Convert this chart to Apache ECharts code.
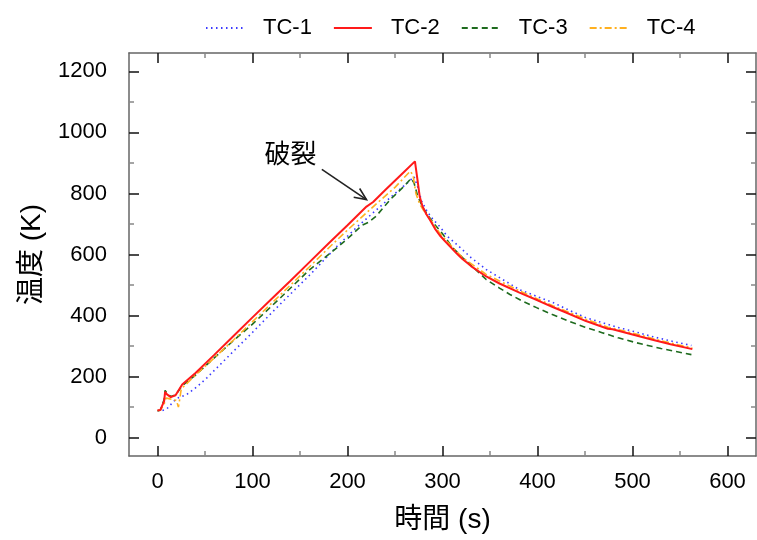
<!DOCTYPE html>
<html>
<head>
<meta charset="utf-8">
<script src="https://cdn.jsdelivr.net/npm/echarts@6/dist/echarts.min.js"></script>
<style>html,body{margin:0;padding:0;background:#fff}#c{width:757px;height:540px}</style>
</head>
<body>
<div id="c"></div>
<script>
// ---- data ----
const seriesNames = ['TC-1', 'TC-2', 'TC-3', 'TC-4'];

const tc1Time = [0,5,10,15,20,31,42,52,70,100,130,160,189,210,230,250,265,270,274,278,284,290,297,305,315,330,346,365,381,400,416,435,451,470,486,505,521,540,562];
const tc1Temp = [88,89,95,112,128,142,168,196,252,345,440,532,627,690,745,800,840,855,820,775,740,715,692,660,633,590,551,515,485,462,443,415,393,375,360,345,331,317,302];

const tc2Time = [0,3,5,7,8,10,14,19,26,40,60,80,100,120,140,160,180,200,220,227,240,260,271,273,276,279,283,287,292,297,302,308,315,321,330,346,360,381,400,416,430,451,474,479,500,521,540,563];
const tc2Temp = [90,91,95,120,150,142,133,139,174,212,272,333,394,454,514,575,636,696,757,772,812,872,905,860,790,757,732,712,685,663,646,626,603,585,562,528,505,475,450,428,410,382,357,355,338,321,306,290];

const tc3Time = [0,3,5,7,8,10,14,19,26,40,60,80,100,130,160,190,203,215,222,230,245,260,267,270,274,280,290,300,310,321,335,346,360,371,385,399,415,434,450,468,485,504,530,562];
const tc3Temp = [88,90,95,125,155,145,135,140,170,205,262,318,372,460,550,625,660,695,705,725,780,825,849,835,790,750,705,668,625,590,550,518,490,469,446,426,404,380,362,344,327,311,292,272];

const tc4Time = [0,3,5,7,9,12,16,20,22,23,25,30,40,60,80,100,130,160,182,200,230,250,266,269,272,276,280,287,297,308,321,346,381,416,451,474,500,521,540,563];
const tc4Temp = [88,90,93,110,130,128,125,122,100,118,160,175,205,262,320,380,470,560,627,680,765,820,873,860,800,765,745,715,670,632,590,535,481,432,388,362,343,325,310,294];

const xMajorTicks = [0,100,200,300,400,500,600];
const xMinorTicks = [50,150,250,350,450,550];
const yMajorTicks = [0,200,400,600,800,1000,1200];
const yMinorTicks = [100,300,500,700,900,1100];

const annotationText = '破裂';
const annotationLabelAt = [140, 931];
const arrowFrom = [173, 879];
const arrowTo = [220, 780];

// ---- chart ----
const FONT = '"Liberation Sans", Arial, "Noto Sans CJK JP", sans-serif';
const chart = echarts.init(document.getElementById('c'), null, {renderer: 'canvas'});

function pairs(t, v) { return t.map((x, i) => [x, v[i]]); }

function axisPair(pos, isMain, ticks, len, color, range) {
  return {
    type: 'value', position: pos, min: range[0], max: range[1],
    axisLine: {show: isMain, onZero: false, lineStyle: {color: '#666', width: 1.5}},
    axisTick: {show: true, inside: true, length: len, customValues: ticks, lineStyle: {color: color, width: 1.5}},
    axisLabel: {show: false},
    splitLine: {show: false}
  };
}
const xr = [-30, 630], yr = [-60, 1260];
const plain = v => String(v);

const xAxes = [
  Object.assign(axisPair('bottom', true, xMajorTicks, 10, '#111', xr), {
    axisLabel: {show: true, customValues: xMajorTicks, formatter: plain, fontSize: 22, color: '#000', margin: 15, fontFamily: FONT},
    name: '時間 (s)', nameLocation: 'middle', nameGap: 50,
    nameTextStyle: {fontSize: 28, color: '#000', fontFamily: FONT}
  }),
  axisPair('bottom', false, xMinorTicks, 5, '#888', xr),
  axisPair('top', true, xMajorTicks, 10, '#111', xr),
  axisPair('top', false, xMinorTicks, 5, '#888', xr)
];
const yAxes = [
  Object.assign(axisPair('left', true, yMajorTicks, 10, '#111', yr), {
    axisLabel: {show: true, customValues: yMajorTicks, formatter: plain, fontSize: 22, color: '#000', margin: 22, fontFamily: FONT},
    name: '温度 (K)', nameLocation: 'middle', nameGap: 83, nameRotate: 90,
    nameTextStyle: {fontSize: 28, color: '#000', fontFamily: FONT}
  }),
  axisPair('left', false, yMinorTicks, 5, '#888', yr),
  axisPair('right', true, yMajorTicks, 10, '#111', yr),
  axisPair('right', false, yMinorTicks, 5, '#888', yr)
];

const styles = [
  {color: '#3a3aff', width: 1.6, type: [1.5, 3.5]},
  {color: '#ff1a1a', width: 2, type: 'solid'},
  {color: '#1e6b1e', width: 1.6, type: [6, 4]},
  {color: '#ffb020', width: 1.6, type: [7, 3, 2, 3]}
];
const dataSets = [pairs(tc1Time, tc1Temp), pairs(tc2Time, tc2Temp), pairs(tc3Time, tc3Temp), pairs(tc4Time, tc4Temp)];

const series = seriesNames.map((n, i) => ({
  name: n, type: 'line', xAxisIndex: 0, yAxisIndex: 0,
  data: dataSets[i], symbol: 'none', showSymbol: false, smooth: false,
  z: [1, 4, 2, 3][i],
  lineStyle: styles[i], itemStyle: {color: styles[i].color}, animation: false
}));

chart.setOption({
  animation: false,
  backgroundColor: '#fff',
  grid: {left: 129, right: 1, top: 53, bottom: 84, containLabel: false},
  legend: {
    left: 200, top: 12, itemWidth: 38, itemHeight: 14, itemGap: 21,
    data: seriesNames,
    itemStyle: {opacity: 0},
    textStyle: {fontSize: 22, color: '#000', fontFamily: FONT, padding: [0, 0, 0, 14]}
  },
  xAxis: xAxes,
  yAxis: yAxes,
  series: series
});

// annotation: text + open arrow, positioned via the chart's own scales
const finder = {seriesIndex: 1};
const pLabel = chart.convertToPixel(finder, annotationLabelAt);
const p0 = chart.convertToPixel(finder, arrowFrom);
const p1 = chart.convertToPixel(finder, arrowTo);
const ang = Math.atan2(p1[1] - p0[1], p1[0] - p0[0]);
const hl = 13, ha = 0.42;
const b1 = [p1[0] - hl * Math.cos(ang - ha), p1[1] - hl * Math.sin(ang - ha)];
const b2 = [p1[0] - hl * Math.cos(ang + ha), p1[1] - hl * Math.sin(ang + ha)];
chart.setOption({
  graphic: [
    {type: 'text', x: pLabel[0], y: pLabel[1], style: {text: annotationText, fill: '#000', font: '26px "Noto Sans CJK JP", sans-serif', textAlign: 'center', textVerticalAlign: 'middle'}, z: 10},
    {type: 'polyline', shape: {points: [p0, p1]}, style: {stroke: '#222', lineWidth: 1.6, fill: null}, z: 10},
    {type: 'polyline', shape: {points: [b1, p1, b2]}, style: {stroke: '#222', lineWidth: 1.6, fill: null}, z: 10}
  ]
});
</script>
</body>
</html>
